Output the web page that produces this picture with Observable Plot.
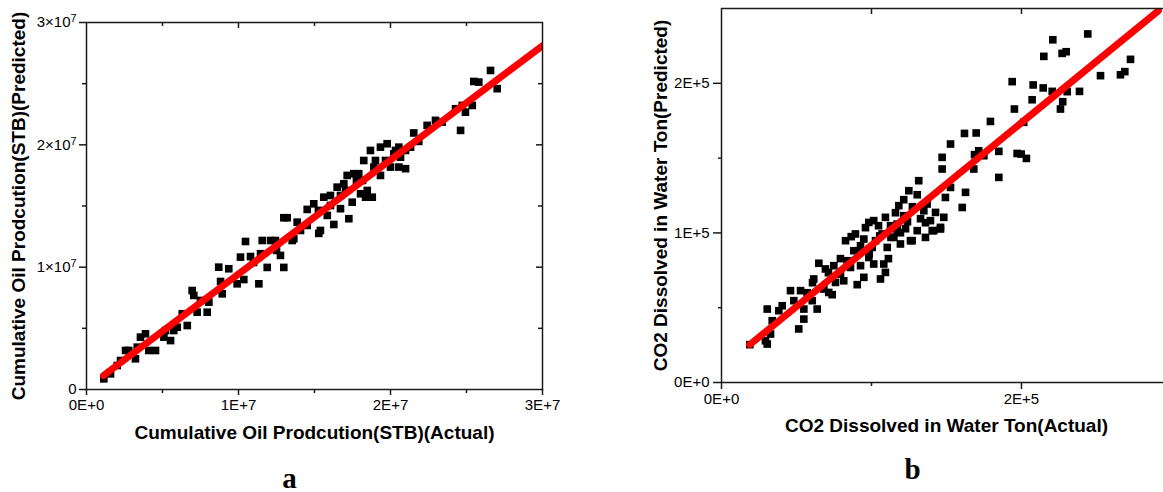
<!DOCTYPE html>
<html>
<head>
<meta charset="utf-8">
<script src="https://cdn.jsdelivr.net/npm/d3@7"></script>
<script src="https://cdn.jsdelivr.net/npm/@observablehq/plot@0.6"></script>
<style>
  body { margin: 0; background: #fff; }
  #wrap { position: relative; width: 1163px; height: 492px; overflow: hidden; background: #fff; }
  #wrap > svg { position: absolute; top: 0; }
</style>
</head>
<body>
<div id="wrap"></div>
<script>
// ---------- Panel a: Cumulative oil production (STB) ----------
const oilActual = [
  1.14e6, 1.58e6, 2.02e6, 2.57e6, 2.78e6, 3.22e6, 3.34e6, 3.55e6, 3.88e6, 4.10e6,
  4.54e6, 5.09e6, 5.20e6, 5.74e6, 5.97e6, 6.30e6, 6.63e6, 6.95e6, 7.06e6, 7.28e6,
  7.94e6, 8.05e6, 8.70e6, 8.82e6, 8.93e6, 9.36e6, 9.91e6, 10.13e6, 10.35e6, 10.46e6,
  10.79e6, 11.34e6, 11.45e6, 11.56e6, 11.89e6, 12.11e6, 12.43e6, 12.76e6, 12.98e6, 12.98e6,
  13.20e6, 13.53e6, 13.86e6, 13.64e6, 14.52e6, 14.52e6, 14.95e6, 15.28e6, 15.39e6, 15.61e6,
  15.84e6, 16.05e6, 16.27e6, 16.49e6, 16.71e6, 16.93e6, 17.15e6, 17.26e6, 17.48e6, 17.59e6,
  17.91e6, 18.03e6, 18.24e6, 18.36e6, 18.47e6, 18.80e6, 18.68e6, 18.90e6, 19.34e6, 19.34e6,
  19.78e6, 20.00e6, 20.22e6, 20.55e6, 20.66e6, 20.99e6, 20.55e6, 21.32e6, 21.53e6, 21.86e6,
  22.41e6, 22.96e6, 23.40e6, 24.28e6, 24.61e6, 24.72e6, 24.93e6, 25.38e6, 25.48e6, 25.81e6,
  26.58e6, 27.02e6,
  17.76e6, 17.04e6, 19.01e6, 16.05e6, 15.26e6, 14.08e6, 12.50e6, 10.99e6, 7.50e6, 5.53e6,
  2.24e6, 16.71e6, 18.16e6, 19.67e6, 20.33e6, 20.99e6
];
const oilPredicted = [
  0.87e6, 1.28e6, 1.96e6, 3.19e6, 3.19e6, 2.51e6, 3.46e6, 4.28e6, 4.55e6, 3.19e6,
  3.19e6, 4.28e6, 4.82e6, 4.82e6, 5.09e6, 6.19e6, 5.23e6, 8.09e6, 7.69e6, 6.32e6,
  6.32e6, 7.14e6, 10.00e6, 8.83e6, 7.82e6, 9.87e6, 8.64e6, 10.82e6, 8.99e6, 12.10e6,
  10.87e6, 8.64e6, 11.10e6, 12.18e6, 9.98e6, 12.18e6, 12.18e6, 10.96e6, 9.98e6, 14.04e6,
  14.04e6, 12.18e6, 13.68e6, 12.32e6, 14.72e6, 13.41e6, 15.18e6, 12.76e6, 13.00e6, 15.72e6,
  14.23e6, 15.86e6, 13.49e6, 16.54e6, 14.78e6, 16.82e6, 17.50e6, 13.96e6, 15.31e6, 17.64e6,
  17.64e6, 16.00e6, 18.72e6, 15.72e6, 16.27e6, 15.72e6, 19.54e6, 18.18e6, 19.81e6, 17.50e6,
  20.09e6, 18.18e6, 19.27e6, 18.18e6, 18.99e6, 18.05e6, 19.81e6, 19.81e6, 20.97e6, 20.28e6,
  21.59e6, 22.00e6, 21.86e6, 22.95e6, 21.18e6, 23.22e6, 22.67e6, 23.22e6, 25.18e6, 25.13e6,
  26.08e6, 24.59e6,
  17.09e6, 16.27e6, 18.72e6, 15.04e6, 14.64e6, 13.00e6, 11.37e6, 10.38e6, 7.28e6, 4.00e6,
  2.37e6, 15.86e6, 17.09e6, 18.72e6, 19.54e6, 19.54e6
];
const oilFitX = [1.12e6, 3.0e7];
const oilFitY = [1.14e6, 2.81e7];
const oilXTicks = [0, 1e7, 2e7, 3e7];
const oilXTickLabels = ["0E+0", "1E+7", "2E+7", "3E+7"];
const oilYTicks = [0, 1e7, 2e7, 3e7];
const oilYTickLabels = ["0", "1×10⁷", "2×10⁷", "3×10⁷"];
const oilMinorTicks = [0.5e7, 1.5e7, 2.5e7];
const oilXTitle = "Cumulative Oil Prodcution(STB)(Actual)";
const oilYTitle = "Cumulative Oil Prodcution(STB)(Predicted)";
const oilPanelLetter = "a";

// ---------- Panel b: CO2 dissolved in water (ton) ----------
const co2Actual = [
  18.9e3, 30.5e3, 29.3e3, 30.5e3, 32.7e3, 33.8e3, 38.2e3, 40.5e3, 46.0e3, 48.2e3,
  51.5e3, 52.7e3, 54.9e3, 54.9e3, 57.1e3, 60.5e3, 61.5e3, 63.8e3, 64.9e3, 68.2e3,
  69.3e3, 71.5e3, 73.8e3, 74.9e3, 76.0e3, 79.3e3, 81.5e3, 82.7e3, 83.8e3, 86.0e3,
  88.2e3, 89.3e3, 90.5e3, 92.7e3, 94.9e3, 94.9e3, 98.2e3, 98.2e3, 100.5e3, 101.5e3,
  101.5e3, 106.0e3, 107.1e3, 108.2e3, 109.3e3, 109.3e3, 110.5e3, 114.9e3, 117.1e3, 118.2e3,
  119.3e3, 121.5e3, 121.5e3, 124.9e3, 127.1e3, 130.5e3, 130.5e3, 131.5e3, 134.9e3, 136.0e3,
  137.1e3, 139.3e3, 141.5e3, 142.7e3, 146.0e3, 148.2e3, 149.3e3, 147.1e3, 147.1e3, 152.7e3,
  152.7e3, 160.5e3, 162.7e3, 162.0e3, 168.2e3, 168.7e3, 169.8e3, 171.5e3, 174.9e3, 179.3e3,
  184.9e3, 184.9e3, 193.8e3, 195.3e3, 197.1e3, 199.8e3, 201.5e3, 203.3e3, 207.1e3, 207.8e3,
  214.5e3, 214.9e3, 220.5e3, 220.9e3, 226.0e3, 227.5e3, 227.1e3, 229.8e3, 230.5e3, 238.7e3,
  244.2e3, 252.7e3, 266.0e3, 268.9e3, 272.7e3,
  117.1e3, 126.0e3, 140.5e3, 146.0e3, 104.7e3, 112.7e3, 122.7e3, 132.7e3, 92.7e3, 102.7e3,
  111.3e3, 119.3e3, 91.3e3, 116.0e3, 127.3e3, 136.0e3, 79.3e3, 71.3e3, 60.7e3,
  86.5e3, 96.0e3, 105.5e3, 113.0e3, 124.0e3, 98.5e3
];
const co2Predicted = [
  25.3e3, 49.1e3, 27.9e3, 25.7e3, 32.4e3, 41.3e3, 48.0e3, 51.3e3, 61.4e3, 54.7e3,
  35.8e3, 61.4e3, 49.1e3, 42.4e3, 60.0e3, 54.7e3, 69.2e3, 49.1e3, 79.7e3, 62.5e3,
  75.9e3, 60.2e3, 58.7e3, 78.1e3, 66.9e3, 72.5e3, 68.0e3, 94.8e3, 81.4e3, 76.9e3,
  88.1e3, 99.3e3, 65.4e3, 78.1e3, 95.9e3, 70.3e3, 107.0e3, 83.6e3, 90.3e3, 79.2e3,
  108.2e3, 69.2e3, 99.3e3, 79.2e3, 73.6e3, 110.4e3, 90.3e3, 97.0e3, 105.9e3, 118.2e3,
  92.6e3, 111.5e3, 122.2e3, 128.2e3, 94.8e3, 101.5e3, 125.5e3, 134.9e3, 114.8e3, 97.0e3,
  119.3e3, 108.2e3, 101.5e3, 113.7e3, 102.6e3, 110.4e3, 123.7e3, 142.7e3, 150.5e3, 130.4e3,
  159.4e3, 117.0e3, 127.1e3, 166.5e3, 142.7e3, 152.3e3, 166.8e3, 154.9e3, 151.6e3, 174.5e3,
  154.5e3, 137.1e3, 201.1e3, 182.8e3, 153.1e3, 152.7e3, 173.9e3, 149.8e3, 189.0e3, 198.9e3,
  196.9e3, 218.0e3, 194.6e3, 229.1e3, 182.8e3, 187.7e3, 220.0e3, 221.1e3, 194.4e3, 194.6e3,
  233.0e3, 205.1e3, 205.7e3, 207.8e3, 216.0e3,
  101.5e3, 94.8e3, 101.5e3, 103.7e3, 104.8e3, 104.8e3, 102.8e3, 109.5e3, 91.4e3, 94.8e3,
  82.8e3, 100.1e3, 86.8e3, 113.5e3, 117.5e3, 106.8e3, 82.8e3, 73.4e3, 66.7e3,
  97.5e3, 103.5e3, 98.0e3, 97.0e3, 107.5e3, 86.0e3
];
const co2FitX = [18.9e3, 291.3e3];
const co2FitY = [25.3e3, 248.5e3];
const co2XTicks = [0, 2e5];
const co2XTickLabels = ["0E+0", "2E+5"];
const co2XMinor = [1e5];
const co2YTicks = [0, 1e5, 2e5];
const co2YTickLabels = ["0E+0", "1E+5", "2E+5"];
const co2YMinor = [0.5e5, 1.5e5];
const co2XTitle = "CO2 Dissolved in Water Ton(Actual)";
const co2YTitle = "CO2 Dissolved in Water Ton(Predicted)";
const co2PanelLetter = "b";

// ---------- shared styling ----------
const sans = "'Liberation Sans', Arial, sans-serif";
const serif = "'Liberation Serif', 'Times New Roman', serif";
const axisColor = "#1a1a1a";
const H = 492;
const titleSize = 19;
const tickFont = 15;
const dotR = 4.3;
const wrap = document.getElementById("wrap");

const table = (xs, ys) => xs.map((x, i) => ({x, y: ys[i]}));
const fmt = (ticks, labels) => { const m = new Map(ticks.map((t, i) => [t, labels[i]])); return d => m.get(d) ?? ""; };
const supDigits = "⁰¹²³⁴⁵⁶⁷⁸⁹";

// ---------- Panel a ----------
{
  const W = 560, mL = 86, mR = 18, mT = 22, mB = 103;
  const fW = W - mL - mR, fH = H - mT - mB;
  const svg = Plot.plot({
    width: W, height: H,
    marginLeft: mL, marginRight: mR, marginTop: mT, marginBottom: mB,
    x: {domain: [0, 3e7]},
    y: {domain: [0, 3e7]},
    style: {fontFamily: sans, background: "transparent", color: "#000", overflow: "visible"},
    marks: [
      Plot.dot(table(oilActual, oilPredicted), {x: "x", y: "y", symbol: "square", r: dotR, fill: "#000"}),
      Plot.line(table(oilFitX, oilFitY), {x: "x", y: "y", stroke: "#ff0000", strokeWidth: 7, strokeLinecap: "round", clip: true}),
      Plot.frame({stroke: axisColor, strokeWidth: 1.5}),
      Plot.axisX({ticks: oilXTicks, tickSize: 6, tickPadding: 4, tickFormat: fmt(oilXTicks, oilXTickLabels), fontSize: tickFont, label: null, stroke: axisColor, strokeWidth: 1.5}),
      Plot.axisX({ticks: oilMinorTicks, tickSize: 4, tickFormat: () => "", label: null, stroke: axisColor, strokeWidth: 1.5}),
      Plot.axisY({ticks: oilYTicks, tickSize: 7, tickPadding: 3, tickFormat: fmt(oilYTicks, oilYTickLabels), fontSize: tickFont, label: null, stroke: axisColor, strokeWidth: 1.5}),
      Plot.axisY({ticks: oilMinorTicks, tickSize: 4, tickFormat: () => "", label: null, stroke: axisColor, strokeWidth: 1.5}),
      // inward mirrored ticks on top and right
      Plot.ruleX(oilXTicks.slice(1, -1), {x: d => d, insetBottom: fH - 6, stroke: axisColor, strokeWidth: 1.5}),
      Plot.ruleX(oilMinorTicks, {x: d => d, insetBottom: fH - 4, stroke: axisColor, strokeWidth: 1.5}),
      Plot.ruleY(oilYTicks.slice(1, -1), {y: d => d, insetLeft: fW - 6, stroke: axisColor, strokeWidth: 1.5}),
      Plot.ruleY(oilMinorTicks, {y: d => d, insetLeft: fW - 4, stroke: axisColor, strokeWidth: 1.5}),
      Plot.text([oilXTitle], {text: d => d, frameAnchor: "bottom", textAnchor: "middle", dy: 49, fontSize: titleSize, fontWeight: "bold"}),
      Plot.text([oilYTitle], {text: d => d, frameAnchor: "left", textAnchor: "middle", dx: -68, rotate: -90, fontSize: titleSize, fontWeight: "bold"}),
      Plot.text([oilPanelLetter], {text: d => d, frameAnchor: "bottom", textAnchor: "middle", lineAnchor: "bottom", dx: -25, dy: 98, fontSize: 29, fontWeight: "bold", fontFamily: serif})
    ]
  });
  // render "×10⁷" with a true raised exponent
  d3.select(svg).selectAll('[aria-label="y-axis tick label"] text').each(function () {
    const t = this.textContent;
    const m = t.match(/^(.*×10)([⁰¹²³⁴⁵⁶⁷⁸⁹]+)$/);
    if (!m) return;
    const exp = [...m[2]].map(c => supDigits.indexOf(c)).join("");
    const sel = d3.select(this).text("");
    sel.append("tspan").text(m[1]);
    sel.append("tspan").attr("dy", "-0.45em").attr("font-size", "0.72em").text(exp);
  });
  svg.style.left = "0px";
  wrap.appendChild(svg);
}

// ---------- Panel b ----------
{
  const left = 600;
  const W = 1163 - left, mL = 121, mR = 0, mT = 8, mB = 110;
  const fW = W - mL - mR, fH = H - mT - mB;
  const svg = Plot.plot({
    width: W, height: H,
    marginLeft: mL, marginRight: mR, marginTop: mT, marginBottom: mB,
    x: {domain: [0, 294700]},
    y: {domain: [0, 250000]},
    style: {fontFamily: sans, background: "transparent", color: "#000", overflow: "visible"},
    marks: [
      Plot.dot(table(co2Actual, co2Predicted), {x: "x", y: "y", symbol: "square", r: dotR, fill: "#000"}),
      Plot.line(table(co2FitX, co2FitY), {x: "x", y: "y", stroke: "#ff0000", strokeWidth: 7, strokeLinecap: "round", clip: true}),
      Plot.ruleX([0], {x: d => d, stroke: axisColor, strokeWidth: 1.5}),
      Plot.ruleY([0, 250000], {y: d => d, stroke: axisColor, strokeWidth: 1.5}),
      Plot.axisX({ticks: co2XTicks, tickSize: 7, tickPadding: 4, tickFormat: fmt(co2XTicks, co2XTickLabels), fontSize: tickFont, label: null, stroke: axisColor, strokeWidth: 1.5}),
      Plot.axisX({ticks: co2XMinor, tickSize: 4, tickFormat: () => "", label: null, stroke: axisColor, strokeWidth: 1.5}),
      Plot.axisY({ticks: co2YTicks, tickSize: 8, tickPadding: 4, tickFormat: fmt(co2YTicks, co2YTickLabels), fontSize: tickFont, label: null, stroke: axisColor, strokeWidth: 1.5}),
      Plot.axisY({ticks: co2YMinor, tickSize: 3, tickFormat: () => "", label: null, stroke: axisColor, strokeWidth: 1.5}),
      Plot.ruleX([1e5, 2e5], {x: d => d, insetBottom: fH - 6, stroke: axisColor, strokeWidth: 1.5}),
      Plot.text([co2XTitle], {text: d => d, frameAnchor: "bottom", textAnchor: "middle", dx: 4, dy: 49, fontSize: titleSize, fontWeight: "bold"}),
      Plot.text([co2YTitle], {text: d => d, frameAnchor: "left", textAnchor: "middle", dx: -61, rotate: -90, fontSize: titleSize, fontWeight: "bold"}),
      Plot.text([co2PanelLetter], {text: d => d, frameAnchor: "bottom", textAnchor: "middle", lineAnchor: "bottom", dx: -30, dy: 96, fontSize: 29, fontWeight: "bold", fontFamily: serif})
    ]
  });
  svg.style.left = left + "px";
  wrap.appendChild(svg);
}
</script>
</body>
</html>
